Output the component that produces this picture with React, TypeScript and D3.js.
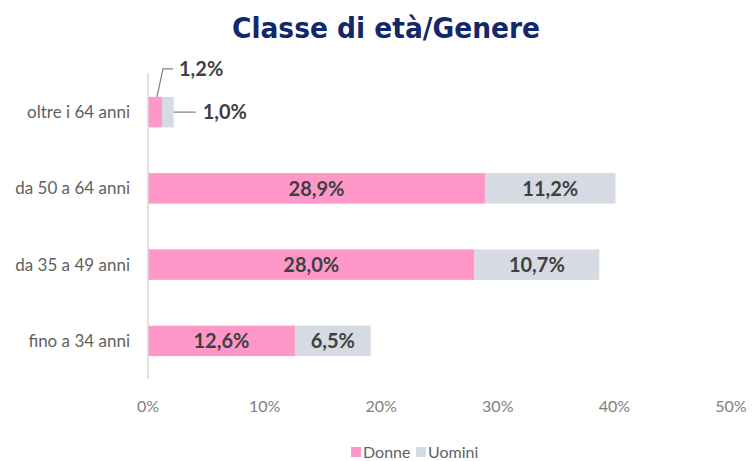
import React from "react";
import * as d3 from "d3";

const categories = ["oltre i 64 anni", "da 50 a 64 anni", "da 35 a 49 anni", "fino a 34 anni"];
const donne = [1.2, 28.9, 28.0, 12.6];
const uomini = [1.0, 11.2, 10.7, 6.5];
const ticks = [0, 10, 20, 30, 40, 50];
const seriesNames = ["Donne", "Uomini"];
const title = "Classe di età/Genere";

const W = 752;
const H = 461;
const PINK = "#FF97C9";
const GREY = "#D6DAE3";
const fmt = (v: number) => v.toFixed(1).replace(".", ",") + "%";

export default function App() {
  const x = d3.scaleLinear().domain([0, 50]).range([148, 731]);
  const y = d3.scaleBand<string>().domain(categories).range([74, 379]).paddingInner(0.6).paddingOuter(0.3);
  const bw = y.bandwidth();
  const font = "Lato, 'Open Sans', sans-serif";

  return (
    <svg width={W} height={H} style={{ position: "absolute", left: 0, top: 0, background: "#fff" }}>
      <text x={386} y={38} textAnchor="middle" fontFamily="'DejaVu Sans Condensed', 'DejaVu Sans', sans-serif"
        fontWeight="bold" fontSize={28} fill="#13286A" textLength={308} lengthAdjust="spacingAndGlyphs">{title}</text>

      {categories.map((c, i) => {
        const y0 = y(c) as number;
        const cy = y0 + bw / 2;
        const d = donne[i];
        const u = uomini[i];
        const small = d < 5;
        return (
          <g key={c}>
            <text x={130} y={cy} dy="0.35em" textAnchor="end" fontFamily={font} fontSize={17} fill="#5F5F5F">{c}</text>
            <rect x={x(0)} y={y0} width={x(d) - x(0)} height={bw} fill={PINK} />
            <rect x={x(d)} y={y0} width={x(d + u) - x(d)} height={bw} fill={GREY} />
            {!small && (
              <>
                <text x={(x(0) + x(d)) / 2} y={cy} dy="0.36em" textAnchor="middle" fontFamily={font} fontWeight="bold" fontSize={20} fill="#404040">{fmt(d)}</text>
                <text x={(x(d) + x(d + u)) / 2} y={cy} dy="0.36em" textAnchor="middle" fontFamily={font} fontWeight="bold" fontSize={20} fill="#404040">{fmt(u)}</text>
              </>
            )}
            {small && (
              <>
                <polyline points={`${(x(0) + x(d)) / 2 + 2},${y0} ${x(0) + 15},${y0 - 28} ${x(0) + 25},${y0 - 28}`} fill="none" stroke="#7f7f7f" strokeWidth={1.2} />
                <text x={x(0) + 31} y={y0 - 28} dy="0.36em" fontFamily={font} fontWeight="bold" fontSize={20} fill="#404040">{fmt(d)}</text>
                <line x1={x(d + u)} x2={x(d + u) + 22} y1={cy} y2={cy} stroke="#7f7f7f" strokeWidth={1.2} />
                <text x={x(d + u) + 29} y={cy} dy="0.36em" fontFamily={font} fontWeight="bold" fontSize={20} fill="#404040">{fmt(u)}</text>
              </>
            )}
          </g>
        );
      })}

      <line x1={x(0)} x2={x(0)} y1={73} y2={379} stroke="#D9D9D9" strokeWidth={1.5} />

      {ticks.map((t) => (
        <text key={t} x={x(t)} y={406} dy="0.35em" textAnchor="middle" fontFamily={font} fontSize={16} fill="#808080">{t}%</text>
      ))}

      {seriesNames.map((s, i) => {
        const lx = i === 0 ? 351 : 416;
        return (
          <g key={s}>
            <rect x={lx} y={447} width={10} height={10} fill={i === 0 ? PINK : GREY} />
            <text x={lx + 12} y={452} dy="0.35em" fontFamily={font} fontSize={16} fill="#5F5F5F">{s}</text>
          </g>
        );
      })}
    </svg>
  );
}
